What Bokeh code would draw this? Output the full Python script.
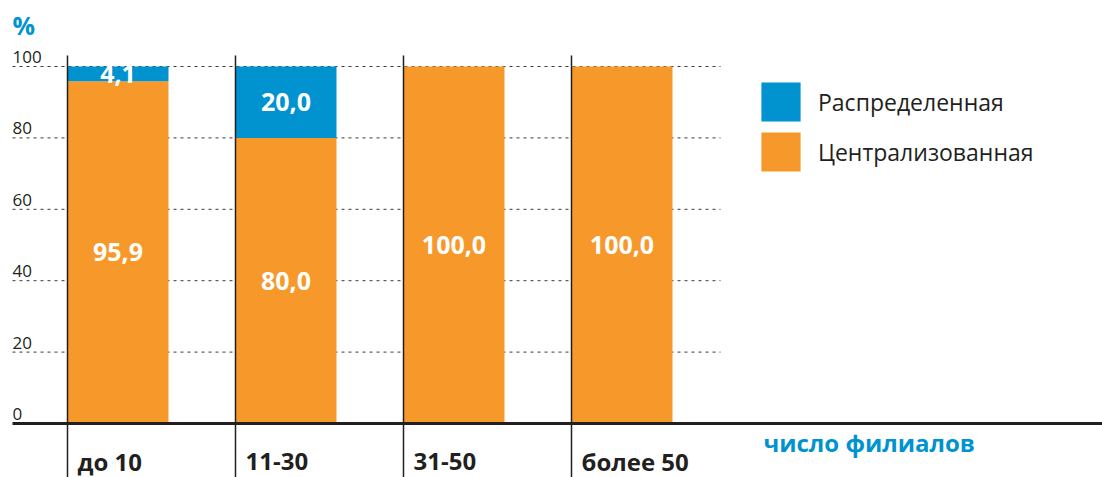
from bokeh.plotting import figure
from bokeh.models import Range1d, Legend, LegendItem, ColumnDataSource
from bokeh.core.properties import value
from bokeh.embed import file_html
from bokeh.resources import INLINE

# ---- data ----
categories = ["до 10", "11-30", "31-50", "более 50"]
centralized = [95.9, 80.0, 100.0, 100.0]
distributed = [4.1, 20.0, 0.0, 0.0]
y_ticks = [0, 20, 40, 60, 80, 100]
series_names = ["Распределенная", "Централизованная"]
x_title = "число филиалов"
y_title = "%"

BLUE = "#0093D0"
ORANGE = "#F7992A"
DARK = "#231F20"
FONT = "Open Sans"

xs = list(range(len(categories)))

# pixel-mapped ranges: 168 px per category, 3.57 px per percent
px_x = 168.0
px_y = 3.57
W, H = 1102, 477
x0 = (0 - 117.5) / px_x
x1 = x0 + W / px_x
ytop = 423 / px_y
ybot = ytop - H / px_y

p = figure(width=W, height=H, x_range=Range1d(x0, x1), y_range=Range1d(ybot, ytop),
           output_backend="svg", toolbar_location=None, min_border=0,
           outline_line_color=None, x_axis_type=None, y_axis_type=None)
p.grid.visible = False
p.background_fill_color = "white"

# dotted grid lines
gx0 = (12 - 117.5) / px_x
gx1 = (720 - 117.5) / px_x
grid_vals = [t for t in y_ticks if t > 0]
p.segment(x0=[gx0] * len(grid_vals), y0=grid_vals, x1=[gx1] * len(grid_vals), y1=grid_vals,
          line_color="#3A3A3C", line_width=1, line_dash="3 4")

# bars
src = ColumnDataSource(dict(x=xs, centralized=centralized, distributed=distributed))
bw = 101 / px_x
rs = p.vbar_stack(["centralized", "distributed"], x="x", width=bw, source=src,
                  fill_color=[ORANGE, BLUE], line_color=None)
r_cent, r_dist = rs

# vertical separator lines at bar left edges
lefts = [x - bw / 2 for x in xs]
p.segment(x0=lefts, y0=[(423 - 55) / px_y] * len(xs), x1=lefts, y1=[ybot - 1] * len(xs),
          line_color=DARK, line_width=1.5)

# baseline
p.segment(x0=[gx0], y0=[0], x1=[x1 + 1], y1=[0], line_color=DARK, line_width=3)

# y tick labels
p.text(x=[gx0] * len(y_ticks), y=[t + 9.5 / px_y for t in y_ticks], text=[str(t) for t in y_ticks],
       text_font=value(FONT), text_font_size="17px", text_color=DARK,
       text_baseline="middle", text_align="left")

# y title
p.text(x=[gx0], y=[(423 - 24) / px_y], text=[y_title], text_font=value(FONT),
       text_font_size="25px", text_font_style="bold", text_color=BLUE,
       text_baseline="middle", text_align="left")

# category labels
p.text(x=[l + 10 / px_x for l in lefts], y=[(423 - 461) / px_y] * len(xs), text=categories,
       text_font=value(FONT), text_font_size="24px", text_font_style="bold", text_color=DARK,
       text_baseline="middle", text_align="left")

# x title
p.text(x=[(763 - 117.5) / px_x], y=[(423 - 442) / px_y], text=[x_title], text_font=value(FONT),
       text_font_size="24px", text_font_style="bold", text_color=BLUE,
       text_baseline="middle", text_align="left")

# value labels
def fmt(v):
    return f"{v:.1f}".replace(".", ",")

lx, ly, lt = [], [], []
for i, (c, d) in enumerate(zip(centralized, distributed)):
    if c > 0:
        lx.append(i); ly.append(c / 2); lt.append(fmt(c))
    if d > 0:
        lx.append(i); ly.append(c + d / 2); lt.append(fmt(d))
p.text(x=lx, y=ly, text=lt, text_font=value(FONT), text_font_size="25px",
       text_font_style="bold", text_color="white", text_align="center", text_baseline="middle")

# legend (bokeh insets area glyphs by 10% on each side)
legend = Legend(items=[LegendItem(label=series_names[0], renderers=[r_dist]),
                       LegendItem(label=series_names[1], renderers=[r_cent])],
                location=(756, 301), border_line_color=None, background_fill_alpha=0,
                padding=0, margin=0, spacing=1, glyph_width=49, glyph_height=49,
                label_standoff=13, label_height=49, label_text_font=FONT,
                label_text_font_size="23px", label_text_color=DARK)
p.add_layout(legend)

open("out.html", "w").write(file_html(p, INLINE))
